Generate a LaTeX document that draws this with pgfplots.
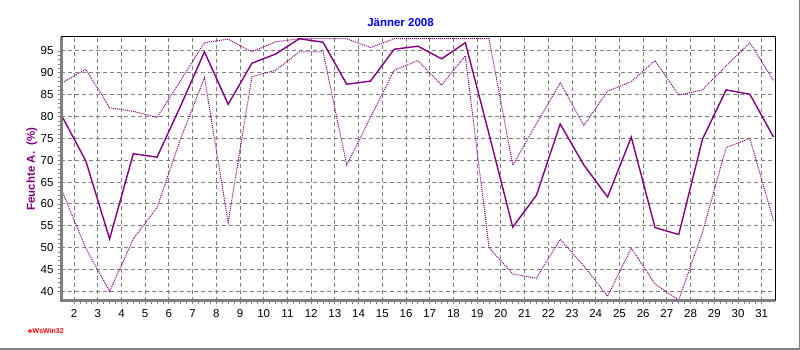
\documentclass[border=0pt]{standalone}
\usepackage{fontspec}
\setmainfont{Liberation Sans}
\usepackage{pgfplots}
\usepackage{pgfplotstable}
\pgfplotsset{compat=1.18}
\definecolor{wsPurple}{RGB}{128,0,128}
\definecolor{wsGrid}{RGB}{128,128,128}
\pgfplotstableread{
x mean max min
1.5 80.0 87.7 62.9
2.5 69.8 90.8 49.8
3.5 52.0 82.0 40.0
4.5 71.5 81.2 52.0
5.5 70.7 79.8 59.2
6.5 82.5 88.3 75.0
7.5 94.8 96.9 88.9
8.5 82.8 97.7 55.8
9.5 92.2 94.8 89.1
10.5 94.3 97.1 90.6
11.5 97.8 97.8 94.8
12.5 97.0 97.8 94.8
13.5 87.4 97.8 68.9
14.5 88.1 95.8 79.8
15.5 95.4 97.8 90.6
16.5 96.1 97.8 92.8
17.5 93.2 97.8 87.2
18.5 96.9 97.8 93.9
19.5 76.0 97.8 50.0
20.5 54.7 68.9 44.0
21.5 62.0 78.4 43.0
22.5 78.3 87.7 51.9
23.5 68.9 78.0 45.8
24.5 61.6 85.8 38.9
25.5 75.3 88.0 49.9
26.5 54.6 92.8 41.7
27.5 53.0 84.9 38.0
28.5 74.8 86.1 53.5
29.5 86.1 91.6 72.9
30.5 85.1 96.9 75.0
31.5 75.3 88.2 56.1
}\datatable
\begin{document}
\begin{tikzpicture}[x=1pt,y=1pt]
\path[use as bounding box] (0,0) rectangle (800,350);
\draw[wsGrid, line width=1.5pt] (0,0.75) -- (799.25,0.75) -- (799.25,350);
\node[text=blue, font=\bfseries\fontsize{11.5}{13}\selectfont] at (400.5,327) {Jänner 2008};
\node[text=wsPurple, rotate=90, font=\bfseries\fontsize{11.5}{13}\selectfont] at (32,181) {Feuchte A.\ \ (\%)};
\draw[red, line width=1pt] (30,19) circle (1.5pt);
\node[text=red, anchor=west, inner sep=0pt, font=\bfseries\fontsize{7}{8}\selectfont] at (32.5,19) {WsWin32};
\begin{axis}[
  at={(61pt,49pt)}, anchor=south west,
  scale only axis, width=714pt, height=264pt,
  xmin=1.45, xmax=31.56, ymin=37.8, ymax=98.2,
  xtick={2,...,31}, ytick={40,45,...,95},
  minor x tick num=3, minor y tick num=4,
  tick pos=left, tick align=outside,
  major tick length=3pt, minor tick length=3pt,
  every tick/.style={wsGrid, line width=0.8pt},
  grid=major,
  major grid style={wsGrid, line width=1pt, dash pattern=on 4pt off 3pt},
  axis line style={draw=none},
  tick label style={font=\fontsize{11.5}{13}\selectfont},
  xticklabel style={yshift=-2pt},
  yticklabel style={xshift=-1pt},
  /pgf/number format/assume math mode=true,
  extra description/.code={
    \draw[black, line width=1pt] (axis description cs:0,1) -- (axis description cs:1,1) -- (axis description cs:1,0);
    \draw[wsGrid, line width=3pt] (axis description cs:0,1) -- (axis description cs:0,0) -- (axis description cs:1,0);
  },
]
\addplot[wsPurple, line width=1pt, dash pattern=on 1pt off 1pt] table[x=x, y=max] {\datatable};
\addplot[wsPurple, line width=1pt, dash pattern=on 1pt off 1pt] table[x=x, y=min] {\datatable};
\addplot[wsPurple, line width=1.4pt] table[x=x, y=mean] {\datatable};
\end{axis}
\end{tikzpicture}
\end{document}
